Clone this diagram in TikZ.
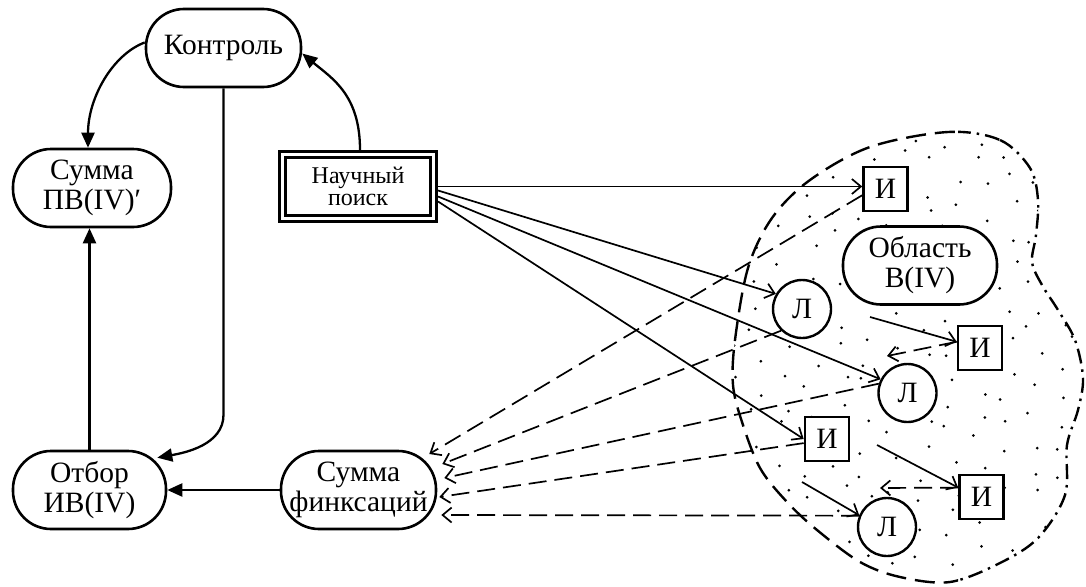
\documentclass[tikz,border=0pt]{standalone}
\usepackage{fontspec}
\setmainfont{Liberation Serif}
\usetikzlibrary{arrows.meta,calc}
\begin{document}
\begin{tikzpicture}[x=1pt,y=-1pt,
  bigfont/.style={font=\fontsize{29.5}{30}\selectfont},
  pill/.style={draw,line width=2.6pt,rounded corners=38pt,minimum height=78pt,inner sep=1pt,align=center,fill=white,bigfont},
  npbox/.style={draw,line width=2.6pt,minimum width=157.5pt,minimum height=70.5pt,inner sep=1pt,align=center,fill=white,font=\fontsize{24}{22}\selectfont},
  ibox/.style={draw,line width=2.6pt,minimum size=44pt,inner sep=0pt,fill=white,bigfont},
  lcirc/.style={circle,draw,line width=2.4pt,minimum size=58pt,inner sep=0pt,fill=white,bigfont},
  bigarr/.style={line width=2.3pt,-{Triangle[length=15pt,width=13pt]}},
  thinarr/.style={line width=1.7pt,-{Straight Barb[length=9pt,width=15pt]}},
  dasharr/.style={thinarr,dash pattern=on 18pt off 8pt},
  blob/.style={insert path={plot[smooth cycle,tension=0.55] coordinates {
    (948,132) (1000,140) (1030,168) (1038,200) (1036,235) (1032,262) (1042,285)
    (1058,310) (1075,340) (1083,378) (1078,410) (1067,445) (1065,495) (1038,538)
    (1000,563) (950,582) (900,577) (860,562) (817,530) (787,502) (760,468)
    (742,422) (733,385) (735,340) (748,268) (772,218) (810,180) (870,147)}}},
  blobdash/.style={line width=2.4pt,dash pattern=on 20pt off 9pt},
  blobdashdot/.style={line width=2.4pt,dash pattern=on 15pt off 6pt on 2.5pt off 6pt}
]
\useasboundingbox (0,0) rectangle (1086,586);

% stippled region
\begin{scope}
  \clip[blob];
  \pgfmathsetseed{31}
  \foreach \i in {0,...,13} {
    \foreach \j in {0,...,17} {
      \pgfmathsetmacro\px{728+\i*28+10*rand}
      \pgfmathsetmacro\py{122+\j*28+10*rand+mod(\i,2)*14}
      \fill (\px,\py) circle (1.5pt);
    }
  }
\end{scope}
\begin{scope}
  \clip (700,100) rectangle (958,600);
  \draw[blobdash,blob];
\end{scope}
\begin{scope}
  \clip (958,100) rectangle (1090,600);
  \draw[blobdashdot,blob];
\end{scope}

% nodes
\node[pill,minimum width=155pt] (kon) at (223.5,48) {Контроль};
\node[pill,minimum width=158pt] (spv) at (92,188) {Сумма\\ПВ(IV)′};
\node[pill,minimum width=153pt] (ot) at (89.5,490) {Отбор\\ИВ(IV)};
\node[pill,minimum width=155pt] (sf) at (358.5,490) {Сумма\\финксаций};
\node[pill,minimum width=154pt] (obl) at (920,265.5) {Область\\В(IV)};
\node[npbox] (np) at (358,186.5) {Научный\\поиск};
\draw[line width=3.4pt] ($(np.south west)+(7.5,-7.5)$) rectangle ($(np.north east)+(-7.5,7.5)$);

\node[ibox] (i1) at (885.5,189) {И};
\node[ibox] (i2) at (980,348) {И};
\node[ibox] (i3) at (827,439) {И};
\node[ibox] (i4) at (981.5,497) {И};
\node[lcirc] (l1) at (802,309) {Л};
\node[lcirc] (l2) at (907.5,393) {Л};
\node[lcirc] (l3) at (887,527) {Л};

% left-hand connectors
\draw[bigarr] ($(np.north)+(2,0)$) .. controls +(0,-55) and +(30,25) .. (kon.-4);
\draw[bigarr] (kon.176) .. controls +(-32,12) and +(0,-50) .. ($(spv.north)+(-4,0)$);
\draw[bigarr] (kon.south) -- ($(kon.south |- ot.north)+(0,-35)$) .. controls +(0,30) and +(28,-5) .. ($(ot.north east)+(-10,8)$);
\draw[bigarr] (ot.north) -- (ot.north |- spv.south);
\draw[bigarr] (sf.west) -- (ot.east);

% search arrows
\draw[thinarr] (np.east) -- (np.east -| i1.west);
\draw[thinarr] ($(np.east)+(0,4)$) -- (l1.150);
\draw[thinarr] ($(np.east)+(0,10)$) -- (l2.153);
\draw[thinarr] ($(np.east)+(0,15)$) -- (i3.west);

% inner arrows
\coordinate (a1) at (870,317);
\coordinate (a2) at (877,445);
\coordinate (a3) at (802,482);
\draw[thinarr] (a1) -- (i2.165);
\draw[thinarr] (a2) -- (i4.158);
\draw[thinarr] (a3) -- (l3.157);
\coordinate (l2in) at (887,356);
\coordinate (l3in) at (880,488);
\draw[dasharr] (i2.165) -- (l2in);
\draw[dasharr] (i4.158) -- (l3in);

% fixations
\draw[dasharr] (i1.195) -- ($(sf.east)+(-8,-36)$);
\draw[dasharr] (l1.226) -- ($(sf.east)+(5,-26)$);
\draw[dasharr] (l2.162) -- ($(sf.east)+(7,-12)$);
\draw[dasharr] (i3.190) -- ($(sf.east)+(2,7)$);
\draw[dasharr] (l3.158) -- ($(sf.east)+(4,25)$);
\end{tikzpicture}
\end{document}
